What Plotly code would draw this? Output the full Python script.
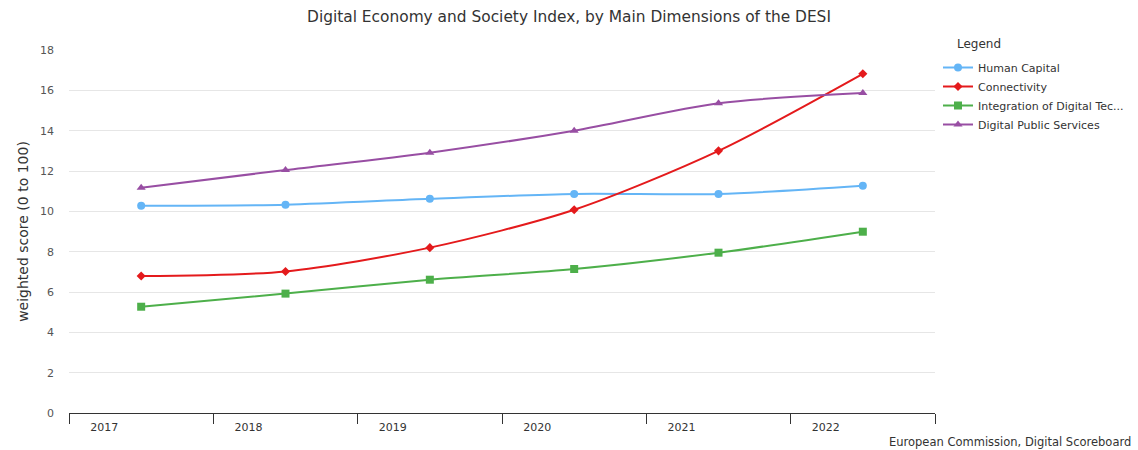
import plotly.graph_objects as go

years = ["2017", "2018", "2019", "2020", "2021", "2022"]
human_capital = [10.28, 10.33, 10.62, 10.86, 10.86, 11.27]
connectivity = [6.79, 7.02, 8.20, 10.08, 13.00, 16.82]
integration = [5.27, 5.92, 6.61, 7.14, 7.95, 8.99]
public_services = [11.17, 12.05, 12.91, 14.00, 15.36, 15.87]

series_names = ["Human Capital", "Connectivity", "Integration of Digital Tec...", "Digital Public Services"]
series_values = [human_capital, connectivity, integration, public_services]
colors = ["#64b5f6", "#e41a1c", "#4daf4a", "#984ea3"]
symbols = ["circle", "diamond", "square", "triangle-up"]
marker_sizes = [8, 7, 8, 8]

FONT = "Lucida Grande, Lucida Sans Unicode, DejaVu Sans, sans-serif"

W, H = 1138, 450
L, R, T, B = 69, 203, 50, 37
PW, PH = W - L - R, H - T - B


def px_x(x):
    return (x - L) / PW


def px_y(y):
    return (H - B - y) / PH


fig = go.Figure()
for name, vals, col, sym, ms in zip(series_names, series_values, colors, symbols, marker_sizes):
    fig.add_trace(go.Scatter(
        x=years, y=vals, name=name, mode="lines+markers",
        line=dict(color=col, width=2, shape="spline", smoothing=0.8),
        marker=dict(symbol=sym, size=ms, color=col),
    ))

fig.update_layout(
    width=W, height=H,
    margin=dict(l=L, r=R, t=T, b=B, autoexpand=False),
    paper_bgcolor="white", plot_bgcolor="white",
    font=dict(family=FONT, color="#333333", size=11),
    title=dict(text="Digital Economy and Society Index, by Main Dimensions of the DESI",
               x=0.5, xanchor="center", y=1 - 17 / H, yanchor="middle",
               font=dict(size=15.4, color="#333333", family=FONT)),
    legend=dict(
        x=px_x(938), xanchor="left", y=px_y(53), yanchor="top",
        font=dict(size=11, color="#333333"), tracegroupgap=0,
        itemwidth=30, bgcolor="rgba(0,0,0,0)",
    ),
    showlegend=True,
)

fig.update_xaxes(
    type="category", range=[-0.5, 5.5], tickson="boundaries",
    ticks="outside", ticklen=10, tickcolor="#333333", tickwidth=1,
    showline=True, linecolor="#333333", linewidth=1,
    showgrid=False, zeroline=False,
    ticklabelshift=-37, ticklabelstandoff=4, tickfont=dict(size=11, color="#333333"),
)
fig.update_yaxes(
    range=[0, 18], dtick=2, tick0=0, showgrid=True, gridcolor="#e6e6e6",
    zeroline=False, showline=False, ticks="", ticklabelstandoff=14,
    tickfont=dict(size=11, color="#555555"),
    title=dict(text="weighted score (0 to 100)", font=dict(size=14, color="#333333"), standoff=8),
)

fig.add_annotation(
    text="Legend", xref="paper", yref="paper",
    x=px_x(955), y=px_y(44), xanchor="left", yanchor="middle",
    showarrow=False, font=dict(size=12, color="#333333"),
)

fig.add_annotation(
    text="European Commission, Digital Scoreboard", xref="paper", yref="paper",
    x=px_x(1133), y=px_y(442), xanchor="right", yanchor="middle",
    showarrow=False, font=dict(size=11.5, color="#333333"),
)

fig.write_html("out.html")
